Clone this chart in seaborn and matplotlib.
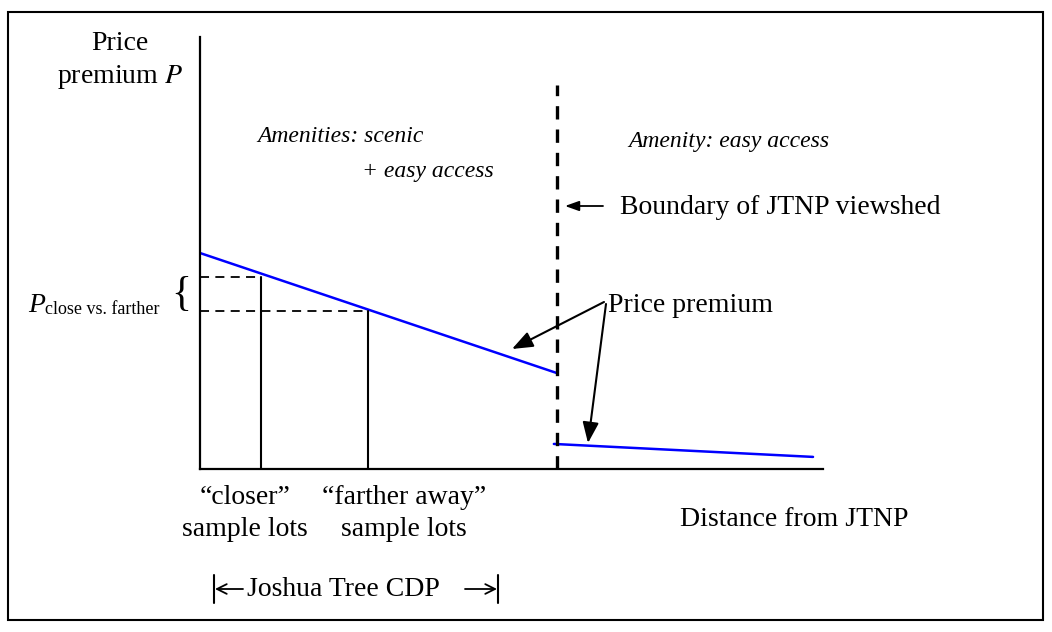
import numpy as np
import pandas as pd
import matplotlib.pyplot as plt
import seaborn as sns
from matplotlib.lines import Line2D
from matplotlib.patches import Rectangle

# values (distance 0-100, premium 0-100)
inside_dist = [0.0, 57.3]
inside_premium = [50.0, 22.2]
outside_dist = [56.8, 98.4]
outside_premium = [5.8, 2.8]
boundary_x = 57.3
boundary_top = 88.9
lot_dist = [9.8, 27.0]
lot_premium = [44.4, 36.6]
lot_labels = ['\u201ccloser\u201d', '\u201cfarther away\u201d']

W, H = 1052, 632


def P(x, y):
    # pixel position (from top-left) -> figure fraction
    return (x / W, 1 - y / H)


sns.set_style('white')
plt.rcParams['font.family'] = ['Liberation Serif', 'DejaVu Serif']
plt.rcParams['mathtext.fontset'] = 'stix'
plt.rcParams['text.color'] = 'black'

fig = plt.figure(figsize=(W / 100, H / 100), dpi=100)
ax = fig.add_axes([200 / W, 1 - 469 / H, 623 / W, 432 / H])
ax.set_xlim(0, 100)
ax.set_ylim(0, 100)
ax.set_xticks([])
ax.set_yticks([])
sns.despine(ax=ax)
for s in ['left', 'bottom']:
    ax.spines[s].set_color('black')
    ax.spines[s].set_linewidth(1.6)

# price premium curves
sns.lineplot(x=inside_dist, y=inside_premium, color='#0000ff', linewidth=1.8, ax=ax)
sns.lineplot(x=outside_dist, y=outside_premium, color='#0000ff', linewidth=1.8, ax=ax)

# viewshed boundary
ax.plot([boundary_x, boundary_x], [0, boundary_top], color='black', lw=2.4,
        dashes=(4, 3), zorder=3)

# sample lots
for x, y in zip(lot_dist, lot_premium):
    ax.plot([x, x], [0, y], color='black', lw=1.5)
    ax.plot([0, x], [y, y], color='black', lw=1.3, dashes=(5, 3.5))

big = 20
ital = 17

fig.text(*P(120, 43), 'Price', ha='center', va='center', fontsize=big)
fig.text(*P(120, 77), 'premium $P$', ha='center', va='center', fontsize=big)

fig.text(*P(28, 312), 'P', ha='left', va='baseline', fontsize=big, style='italic')
fig.text(*P(45, 314), 'close vs. farther', ha='left', va='baseline', fontsize=13)
fig.text(*P(181, 295), '{', ha='center', va='center', fontsize=30,
         fontweight='light')

fig.text(*P(257, 137), 'Amenities: scenic', ha='left', va='center',
         fontsize=ital, style='italic')
fig.text(*P(362, 172), '+ easy access', ha='left', va='center',
         fontsize=ital, style='italic')
fig.text(*P(628, 142), 'Amenity: easy access', ha='left', va='center',
         fontsize=ital, style='italic')

arrow = dict(arrowstyle='-|>,head_length=0.9,head_width=0.35', color='black',
             lw=1.5, shrinkA=0, shrinkB=0, mutation_scale=14)
small_arrow = dict(arrowstyle='-|>,head_length=0.7,head_width=0.25', color='black',
                   lw=1.3, shrinkA=0, shrinkB=0, mutation_scale=12)

fig.text(*P(620, 208), 'Boundary of JTNP viewshed', ha='left', va='center',
         fontsize=big)
ax.annotate('', xy=P(565, 206), xytext=P(603, 206), xycoords='figure fraction',
            arrowprops=small_arrow)

fig.text(*P(608, 305), 'Price premium', ha='left', va='center', fontsize=big)
ax.annotate('', xy=P(512, 349), xytext=P(604, 302), xycoords='figure fraction',
            arrowprops=arrow)
ax.annotate('', xy=P(588, 443), xytext=P(606, 304), xycoords='figure fraction',
            arrowprops=arrow)

for cx, lab in zip([245, 404], lot_labels):
    fig.text(*P(cx, 497), lab, ha='center', va='center', fontsize=big)
    fig.text(*P(cx, 530), 'sample lots', ha='center', va='center', fontsize=big)

fig.text(*P(794, 520), 'Distance from JTNP', ha='center', va='center', fontsize=big)

# Joshua Tree CDP extent
for bx in [214, 498]:
    x0, y0 = P(bx, 575)
    x1, y1 = P(bx, 603)
    fig.add_artist(Line2D([x0, x1], [y0, y1], color='black', lw=1.5))
thin = dict(arrowstyle='->,head_length=0.5,head_width=0.25', color='black',
            lw=1.3, shrinkA=0, shrinkB=0, mutation_scale=14)
ax.annotate('', xy=P(215, 589), xytext=P(243, 589), xycoords='figure fraction',
            arrowprops=thin)
ax.annotate('', xy=P(497, 589), xytext=P(465, 589), xycoords='figure fraction',
            arrowprops=thin)
fig.text(*P(247, 590), 'Joshua Tree CDP', ha='left', va='center', fontsize=big)

# outer frame
bx0, by0 = P(8, 620)
fig.add_artist(Rectangle((bx0, by0), (1043 - 8) / W, (620 - 12) / H,
                         transform=fig.transFigure, fill=False,
                         edgecolor='black', lw=1.5))

fig.savefig('out.png', dpi=100)
